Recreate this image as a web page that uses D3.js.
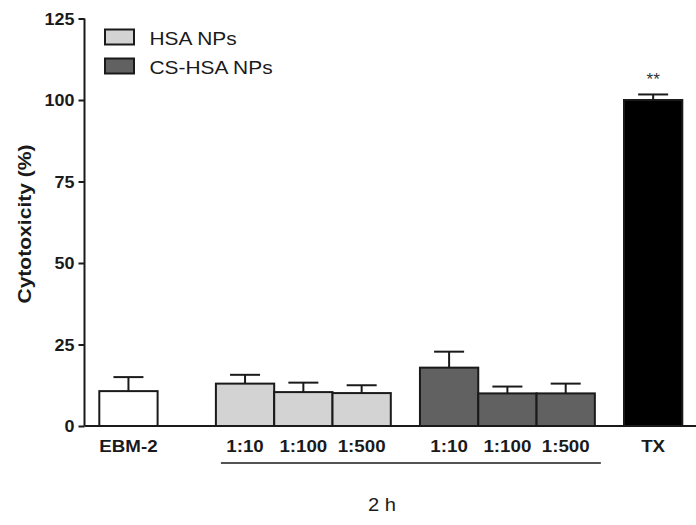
<!DOCTYPE html>
<html>
<head>
<meta charset="utf-8">
<script src="https://cdn.jsdelivr.net/npm/d3@7"></script>
<style>
  html, body { margin: 0; padding: 0; background: #fff; }
  svg { display: block; font-family: "Liberation Sans", Arial, Helvetica, sans-serif; }
</style>
</head>
<body>
<svg id="chart" width="696" height="525"></svg>
<script>
// Cytotoxicity after 2 h exposure
const categories = ["EBM-2", "1:10", "1:100", "1:500", "1:10", "1:100", "1:500", "TX"];
const groups = ["EBM-2", "HSA NPs", "HSA NPs", "HSA NPs", "CS-HSA NPs", "CS-HSA NPs", "CS-HSA NPs", "TX"];
const means = [10.7, 13.0, 10.4, 10.1, 17.9, 10.0, 10.0, 100.0];
const sems = [4.3, 2.7, 2.9, 2.4, 4.9, 2.1, 3.0, 1.7];
const significance = ["", "", "", "", "", "", "", "**"];
const yTicks = [0, 25, 50, 75, 100, 125];
const legendLabels = ["HSA NPs", "CS-HSA NPs"];
const yTitle = "Cytotoxicity (%)";
const xTitle = "2 h";

const fills = { "EBM-2": "#ffffff", "HSA NPs": "#d3d3d3", "CS-HSA NPs": "#616161", "TX": "#000000" };
// extra empty space (in bar widths) inserted before each group
const gapBefore = { "EBM-2": 0, "HSA NPs": 1, "CS-HSA NPs": 0.5, "TX": 0.5 };
const ink = "#1a1a1a";
const stretch = 1.17;

const svg = d3.select("#chart");

// slot index of each bar, with gaps between groups
const slots = [];
let s = 0;
categories.forEach((c, i) => {
  if (i > 0 && groups[i] !== groups[i - 1]) s += 1 + gapBefore[groups[i]];
  else if (i > 0) s += 1;
  slots.push(s);
});
const nSlots = slots[slots.length - 1] + 1;

const x = d3.scaleLinear().domain([0, nSlots]).range([99.3, 682.3]);
const barW = x(1) - x(0);
const y = d3.scaleLinear().domain([0, 125]).range([426, 18.5]);

function widen(sel, k) {
  sel.each(function () {
    const L = this.getComputedTextLength();
    d3.select(this).attr("textLength", L * k).attr("lengthAdjust", "spacingAndGlyphs");
  });
}

// y axis
const yAxis = d3.axisLeft(y).tickValues(yTicks).tickSize(6).tickPadding(4).tickFormat(d3.format("d"));
const gy = svg.append("g").attr("transform", "translate(84.5,0)").call(yAxis);
gy.select(".domain").attr("stroke", ink).attr("stroke-width", 2).attr("d", `M0,${y(125)}V${y(0)}`);
gy.selectAll(".tick line").attr("stroke", ink).attr("stroke-width", 2);
gy.selectAll(".tick text")
  .attr("fill", ink).attr("font-size", 16).attr("font-weight", "bold")
  .attr("font-family", "'Liberation Sans', Arial, sans-serif")
  .attr("dy", "0.36em");
widen(gy.selectAll(".tick text"), 1.12);

// x axis baseline
svg.append("line")
  .attr("x1", 84.5).attr("x2", 696).attr("y1", y(0)).attr("y2", y(0))
  .attr("stroke", ink).attr("stroke-width", 2);

// bars
const bars = svg.append("g");
bars.selectAll("rect").data(means).join("rect")
  .attr("x", (d, i) => x(slots[i]))
  .attr("y", d => y(d))
  .attr("width", barW)
  .attr("height", d => y(0) - y(d))
  .attr("fill", (d, i) => fills[groups[i]])
  .attr("stroke", ink).attr("stroke-width", 2);

// error bars (upper)
const err = svg.append("g").attr("stroke", ink).attr("stroke-width", 2);
means.forEach((m, i) => {
  const cx = x(slots[i] + 0.5);
  err.append("line").attr("x1", cx).attr("x2", cx).attr("y1", y(m)).attr("y2", y(m + sems[i]));
  err.append("line").attr("x1", cx - 15).attr("x2", cx + 15).attr("y1", y(m + sems[i])).attr("y2", y(m + sems[i]));
});

// significance marks
svg.append("g").selectAll("text").data(significance).join("text")
  .attr("x", (d, i) => x(slots[i] + 0.5))
  .attr("y", (d, i) => y(means[i] + sems[i]) - 9)
  .attr("text-anchor", "middle").attr("font-size", 17).attr("fill", "#333")
  .text(d => d);

// category labels
const cl = svg.append("g").selectAll("text").data(categories).join("text")
  .attr("x", (d, i) => x(slots[i] + 0.5))
  .attr("y", 452)
  .attr("text-anchor", "middle").attr("font-size", 16).attr("font-weight", "bold")
  .attr("fill", ink)
  .text(d => d);
widen(cl, stretch);

// bracket under the dilution groups
const dilIdx = categories.map((c, i) => i).filter(i => groups[i] === "HSA NPs" || groups[i] === "CS-HSA NPs");
svg.append("line")
  .attr("x1", x(slots[dilIdx[0]]) + 5).attr("x2", x(slots[dilIdx[dilIdx.length - 1]] + 1) + 6)
  .attr("y1", 463).attr("y2", 463)
  .attr("stroke", ink).attr("stroke-width", 1.6);

// y title
const yt = svg.append("text")
  .attr("transform", "translate(31,224) rotate(-90)")
  .attr("text-anchor", "middle").attr("font-size", 18).attr("font-weight", "bold")
  .attr("fill", ink)
  .text(yTitle);
widen(yt, 1.17);

// x title
const xt = svg.append("text")
  .attr("x", 382).attr("y", 511)
  .attr("text-anchor", "middle").attr("font-size", 18)
  .attr("fill", ink)
  .text(xTitle);
widen(xt, 1.12);

// legend
const lg = svg.append("g");
legendLabels.forEach((lab, i) => {
  const top = 29.5 + i * 29;
  lg.append("rect").attr("x", 105).attr("y", top).attr("width", 29).attr("height", 15)
    .attr("fill", fills[lab]).attr("stroke", ink).attr("stroke-width", 2);
  const t = lg.append("text").attr("x", 149.5).attr("y", top + 15)
    .attr("font-size", 19).attr("fill", ink).text(lab);
  widen(t, 1.1);
});
</script>
</body>
</html>
